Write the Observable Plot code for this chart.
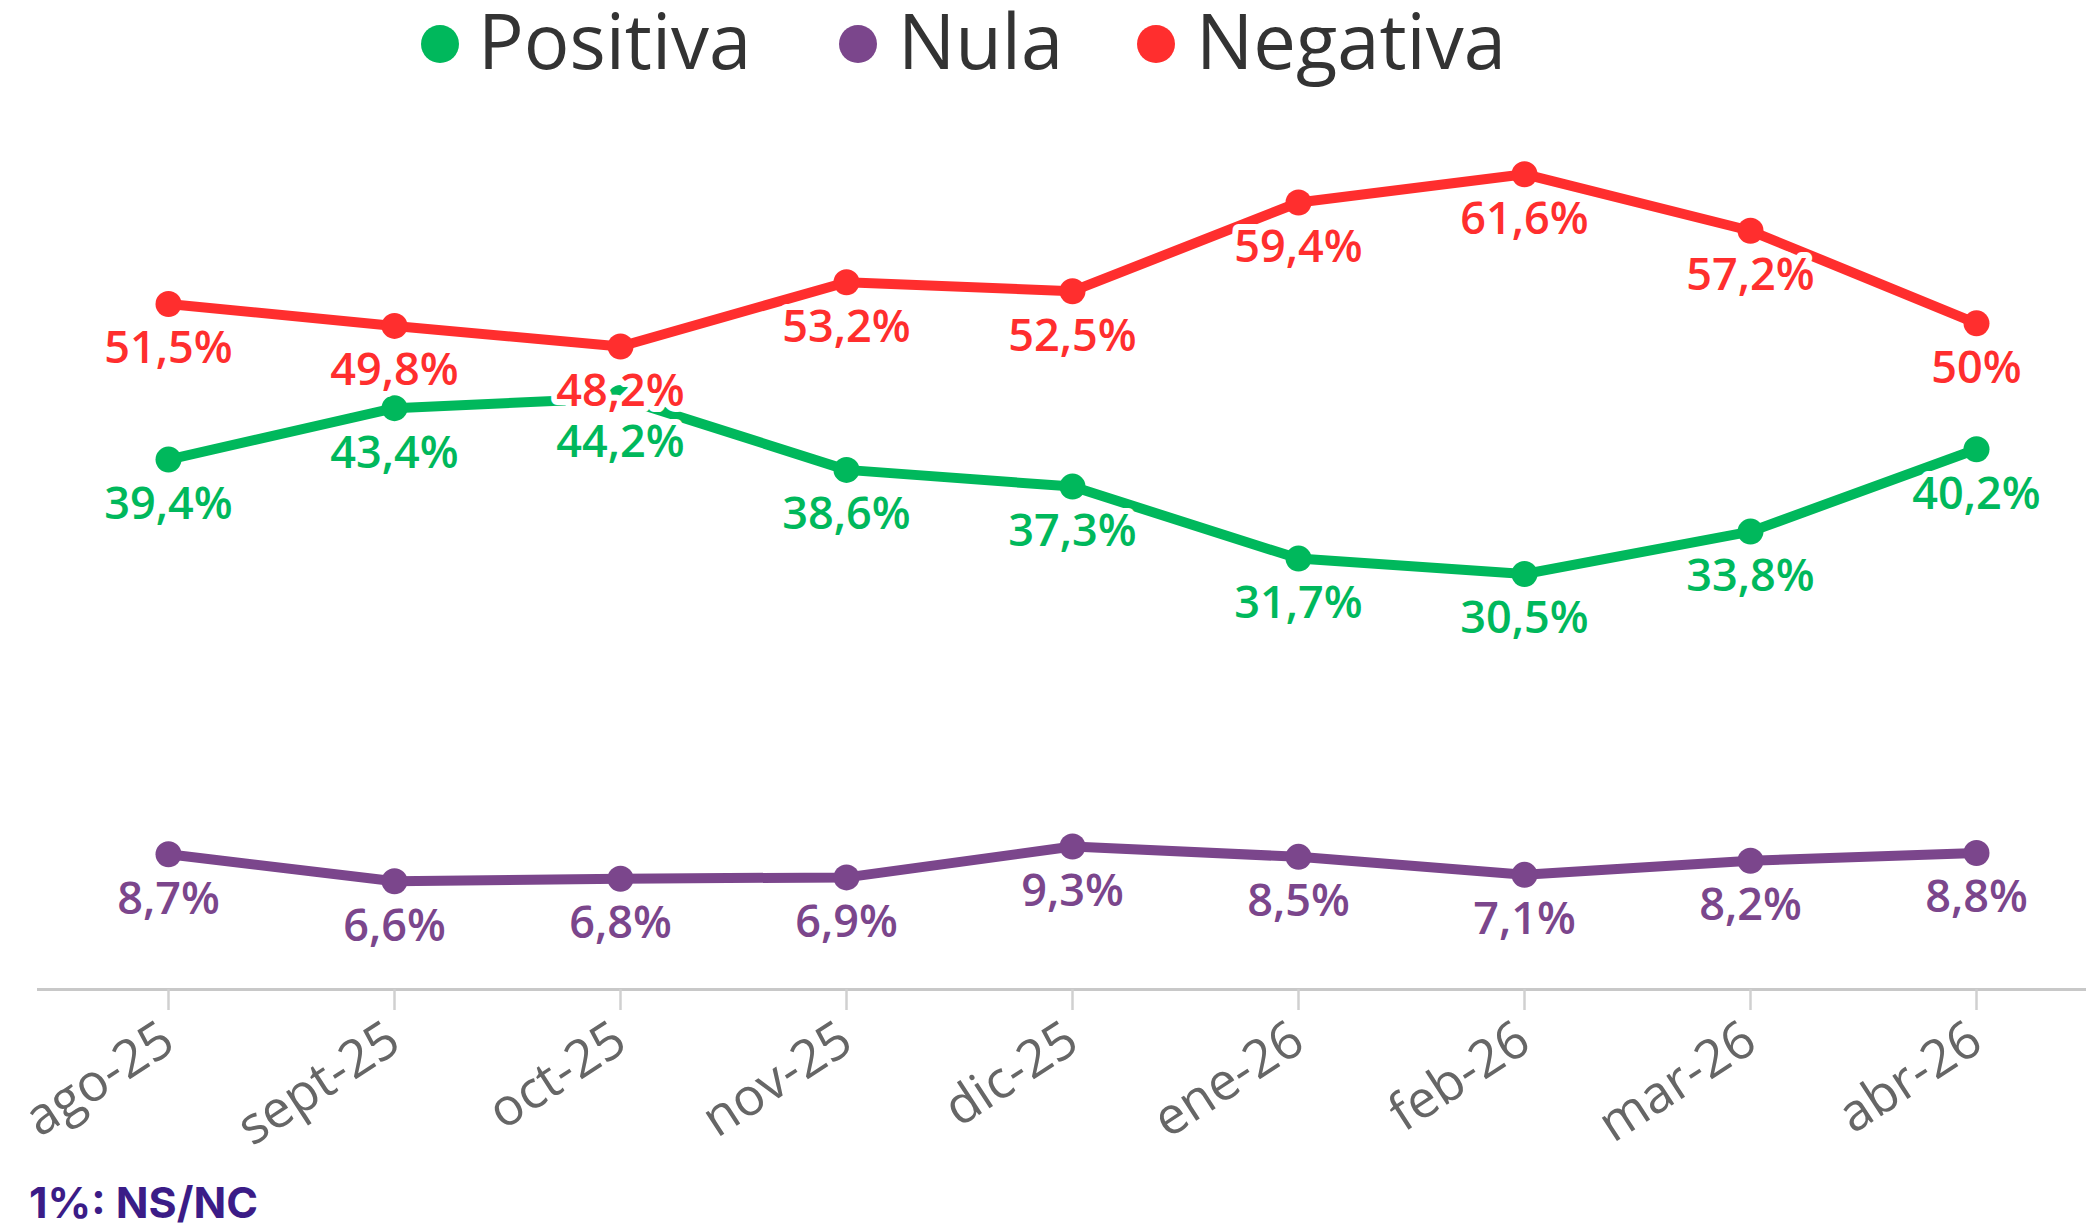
<!DOCTYPE html>
<html><head><meta charset="utf-8">
<script src="https://cdn.jsdelivr.net/npm/d3@7"></script>
<script src="https://cdn.jsdelivr.net/npm/@observablehq/plot@0.6"></script>
<style>
html,body{margin:0;padding:0;background:#fff;width:2086px;height:1224px;overflow:hidden}
#legend{position:relative;height:100px;}
.dot{position:absolute;width:38px;height:38px;border-radius:50%;top:25px}
.lbl{position:absolute;top:2px;font-family:"Open Sans",sans-serif;font-size:76px;line-height:76px;color:#333;white-space:nowrap}
#chart{height:1080px}
#caption{font-family:Inter,sans-serif;font-weight:700;font-size:43px;color:#3b1c87;padding-left:29px;line-height:44px;height:44px;white-space:nowrap}
</style></head>
<body>
<div id="legend"></div>
<div id="chart"></div>
<div id="caption">1%: NS/NC</div>
<script>
const months = ["ago-25","sept-25","oct-25","nov-25","dic-25","ene-26","feb-26","mar-26","abr-26"];
const positiva = [39.4, 43.4, 44.2, 38.6, 37.3, 31.7, 30.5, 33.8, 40.2];
const nula = [8.7, 6.6, 6.8, 6.9, 9.3, 8.5, 7.1, 8.2, 8.8];
const negativa = [51.5, 49.8, 48.2, 53.2, 52.5, 59.4, 61.6, 57.2, 50];
const seriesNames = ["Positiva", "Nula", "Negativa"];
const seriesColors = ["#00b85c", "#7b468c", "#ff2e2e"];
const captionText = "1%: NS/NC";

// legend
const legendPos = [[421, 478], [839, 898], [1137, 1196]];
const legend = document.getElementById("legend");
seriesNames.forEach((s, i) => {
  const d = document.createElement("div");
  d.className = "dot"; d.style.left = legendPos[i][0] + "px"; d.style.background = seriesColors[i];
  legend.appendChild(d);
  const t = document.createElement("div");
  t.className = "lbl"; t.style.left = legendPos[i][1] + "px"; t.textContent = s;
  legend.appendChild(t);
});
document.getElementById("caption").textContent = captionText;

const seriesValues = [positiva, nula, negativa];
const rows = [];
seriesNames.forEach((s, i) => months.forEach((m, j) => rows.push({month: m, serie: s, value: seriesValues[i][j]})));
const fmt = v => String(v).replace(".", ",") + "%";

const chart = Plot.plot({
  width: 2086, height: 1080,
  marginLeft: 37, marginRight: 0, marginTop: 30, marginBottom: 191,
  x: {type: "point", domain: months, range: [164.7, 1979], padding: 0},
  y: {domain: [-1.82, 65], axis: null},
  color: {domain: seriesNames, range: seriesColors},
  style: {fontFamily: "'Open Sans', sans-serif", background: "white", overflow: "visible"},
  marks: [
    Plot.ruleY([-1.82], {stroke: "#c8c8c8", strokeWidth: 3}),
    Plot.axisX({tickSize: 21, tickPadding: 24, tickRotate: -33, stroke: "#d0d0d0", strokeWidth: 2.5, fill: "#666", fontSize: 52, label: null}),
    Plot.line(rows, {x: "month", y: "value", z: "serie", stroke: "serie", strokeWidth: 10}),
    Plot.dot(rows, {x: "month", y: "value", fill: "serie", r: 13}),
    Plot.text(rows, {x: "month", y: "value", text: d => fmt(d.value), fill: "serie", dy: 45, lineAnchor: "middle",
      fontSize: 45, fontWeight: 600, stroke: "white", strokeWidth: 12, strokeLinejoin: "round"})
  ]
});
document.getElementById("chart").appendChild(chart);
</script>
</body></html>
